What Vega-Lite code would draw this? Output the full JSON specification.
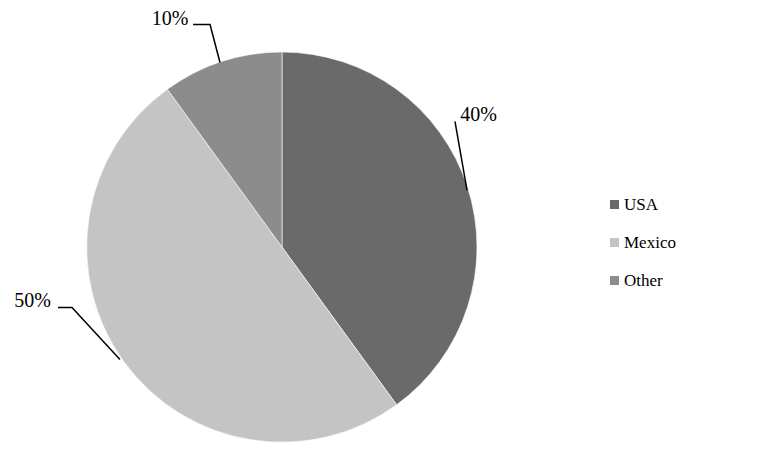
{
  "$schema": "https://vega.github.io/schema/vega-lite/v6.json",
  "width": 390,
  "height": 390,
  "autosize": {"type": "none"},
  "padding": {"left": 87, "top": 52, "right": 292, "bottom": 10},
  "background": "white",
  "config": {
    "view": {"stroke": null},
    "font": "Liberation Serif"
  },
  "datasets": {
    "shares": [
      {"country": "USA", "share": 0.4, "rank": 1},
      {"country": "Mexico", "share": 0.5, "rank": 2},
      {"country": "Other", "share": 0.1, "rank": 3}
    ],
    "callouts": [
      {"country": "USA", "x": 1.008, "y": 0.679},
      {"country": "Mexico", "x": -1.279, "y": -0.279},
      {"country": "Other", "x": -0.574, "y": 1.167}
    ],
    "leaders": [
      {"country": "USA", "seq": 1, "x": 0.887, "y": 0.644},
      {"country": "USA", "seq": 2, "x": 0.949, "y": 0.29},
      {"country": "Mexico", "seq": 1, "x": -1.149, "y": -0.31},
      {"country": "Mexico", "seq": 2, "x": -1.077, "y": -0.31},
      {"country": "Mexico", "seq": 3, "x": -0.831, "y": -0.577},
      {"country": "Other", "seq": 1, "x": -0.456, "y": 1.141},
      {"country": "Other", "seq": 2, "x": -0.369, "y": 1.141},
      {"country": "Other", "seq": 3, "x": -0.318, "y": 0.946}
    ]
  },
  "layer": [
    {
      "data": {"name": "shares"},
      "mark": {"type": "arc", "stroke": "white", "strokeWidth": 0.6},
      "encoding": {
        "theta": {"field": "share", "type": "quantitative", "stack": true},
        "order": {"field": "rank", "type": "quantitative"},
        "fill": {
          "field": "country",
          "type": "nominal",
          "scale": {
            "domain": ["USA", "Mexico", "Other"],
            "range": ["#6a6a6a", "#c4c4c4", "#8c8c8c"]
          },
          "legend": {
            "title": null,
            "orient": "none",
            "legendX": 519,
            "legendY": 144,
            "padding": 0,
            "symbolType": "square",
            "symbolSize": 81,
            "symbolStrokeWidth": 0,
            "labelFont": "Liberation Serif",
            "labelFontSize": 17,
            "labelColor": "black",
            "labelOffset": 1,
            "rowPadding": 20
          }
        }
      }
    },
    {
      "data": {"name": "leaders"},
      "mark": {"type": "line", "color": "black", "strokeWidth": 1.5},
      "encoding": {
        "x": {"field": "x", "type": "quantitative", "scale": {"domain": [-1, 1], "nice": false, "zero": false}, "axis": null},
        "y": {"field": "y", "type": "quantitative", "scale": {"domain": [-1, 1], "nice": false, "zero": false}, "axis": null},
        "detail": {"field": "country", "type": "nominal"},
        "order": {"field": "seq", "type": "quantitative"}
      }
    },
    {
      "data": {"name": "callouts"},
      "transform": [
        {"lookup": "country", "from": {"data": {"name": "shares"}, "key": "country", "fields": ["share"]}}
      ],
      "mark": {"type": "text", "font": "Liberation Serif", "fontSize": 20, "color": "black"},
      "encoding": {
        "x": {"field": "x", "type": "quantitative"},
        "y": {"field": "y", "type": "quantitative"},
        "text": {"field": "share", "type": "quantitative", "format": ".0%"}
      }
    }
  ]
}
